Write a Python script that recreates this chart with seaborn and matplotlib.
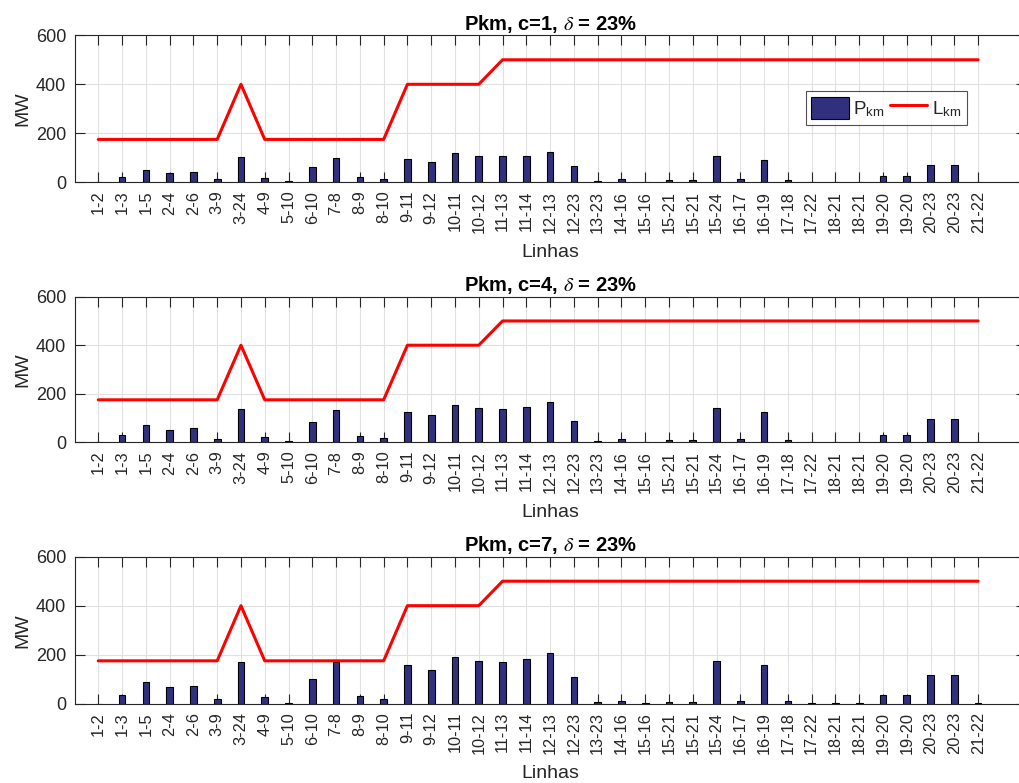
import numpy as np
import pandas as pd
import matplotlib
matplotlib.use("Agg")
import matplotlib.pyplot as plt
import seaborn as sns
from matplotlib.patches import Patch
from matplotlib.lines import Line2D

linhas = ["1-2", "1-3", "1-5", "2-4", "2-6", "3-9", "3-24", "4-9", "5-10", "6-10",
          "7-8", "8-9", "8-10", "9-11", "9-12", "10-11", "10-12", "11-13", "11-14",
          "12-13", "12-23", "13-23", "14-16", "15-16", "15-21", "15-21", "15-24",
          "16-17", "16-19", "17-18", "17-22", "18-21", "18-21", "19-20", "19-20",
          "20-23", "20-23", "21-22"]

lkm = [175, 175, 175, 175, 175, 175, 400, 175, 175, 175,
       175, 175, 175, 400, 400, 400, 400, 500, 500,
       500, 500, 500, 500, 500, 500, 500, 500,
       500, 500, 500, 500, 500, 500, 500, 500,
       500, 500, 500]

pkm_c1 = [0, 20, 50, 38, 41, 12, 105, 19, 4, 64,
          98, 20, 14, 95, 84, 118, 107, 107, 108,
          125, 68, 4, 12, 1, 9, 9, 106,
          12, 90, 11, 1, 0, 0, 24, 24,
          71, 71, 0]

pkm_c4 = [0, 29, 70, 52, 57, 15, 138, 23, 4, 83,
          132, 25, 17, 126, 112, 154, 142, 138, 146,
          165, 88, 4, 12, 0, 8, 8, 141,
          12, 124, 11, 1, 0, 0, 30, 30,
          94, 94, 0]

pkm_c7 = [0, 37, 90, 68, 73, 19, 171, 27, 4, 101,
          172, 32, 19, 156, 138, 192, 175, 171, 182,
          208, 110, 7, 12, 1, 8, 8, 175,
          12, 159, 11, 1, 1, 1, 36, 36,
          118, 118, 1]

casos = [("1", pkm_c1), ("4", pkm_c4), ("7", pkm_c7)]

sns.set_theme(style="white")
plt.rcParams["font.family"] = ["Liberation Sans", "DejaVu Sans"]
plt.rcParams["mathtext.fontset"] = "stix"

bar_color = "#31307f"
fig = plt.figure(figsize=(10.2, 7.83), dpi=100)
W, H = 1020.0, 783.0
left_px, right_px = 74.5, 1025.7
tops = [35.3, 296.7, 556.7]
bottoms = [182.3, 442.3, 703.7]

idx = np.arange(len(linhas))
for k, (c, vals) in enumerate(casos):
    ax = fig.add_axes([left_px / W, 1 - bottoms[k] / H,
                       (right_px - left_px) / W, (bottoms[k] - tops[k]) / H])
    df = pd.DataFrame({"idx": idx, "P": vals, "L": lkm})
    sns.barplot(data=df, x="idx", y="P", native_scale=True, width=0.28,
                color=bar_color, saturation=1, edgecolor="black",
                linewidth=0.8, errorbar=None, ax=ax, zorder=2)
    sns.lineplot(data=df, x="idx", y="L", color="#ff0000", linewidth=2.2,
                 ax=ax, zorder=3)
    ax.set_xlim(-1, 39)
    ax.set_ylim(0, 600)
    ax.set_xticks(idx)
    ax.set_xticklabels(linhas, rotation=90, fontsize=11.8)
    ax.set_yticks([0, 200, 400, 600])
    ax.set_yticklabels(["0", "200", "400", "600"], fontsize=13)
    ax.tick_params(axis="both", which="both", direction="in", length=7,
                   width=0.8, color="#262626", top=True, right=True,
                   bottom=True, left=True, labelcolor="#262626", pad=6)
    ax.grid(True, color="#e0e0e0", linewidth=0.8)
    ax.set_axisbelow(True)
    for s in ax.spines.values():
        s.set_color("#262626")
        s.set_linewidth(0.8)
    ax.set_xlabel("Linhas", fontsize=14, color="#262626", labelpad=8)
    ax.set_ylabel("MW", fontsize=14, color="#262626", labelpad=3)
    ax.set_title(r"Pkm, c=%s, $\delta$ = 23%%" % c, fontsize=14.5,
                 fontweight="bold", color="black", pad=4)
    if k == 0:
        handles = [Patch(facecolor=bar_color, edgecolor="black", linewidth=0.8),
                   Line2D([0], [0], color="#ff0000", linewidth=2.2)]
        leg = ax.legend(handles, [r"P$_\mathregular{km}$", r"L$_\mathregular{km}$"],
                        ncol=2, loc="upper right", bbox_to_anchor=(0.938, 0.621),
                        borderaxespad=0, fontsize=13.5, frameon=True, fancybox=False,
                        edgecolor="#262626", handlelength=2.0, handleheight=1.45,
                        columnspacing=0.25, handletextpad=0.25, borderpad=0.3)
        leg.get_frame().set_linewidth(0.8)
    elif ax.get_legend() is not None:
        ax.get_legend().remove()

fig.savefig("out.png", dpi=100, facecolor="white")
